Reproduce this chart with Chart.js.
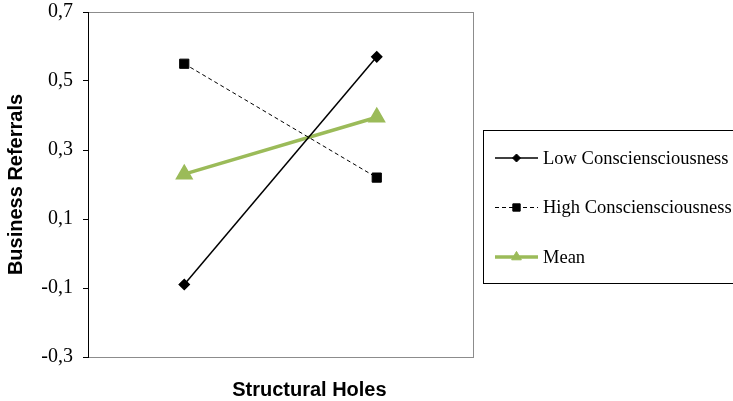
<!DOCTYPE html>
<html lang="en">
<head>
    <meta charset="UTF-8">
    <title>Business Referrals</title>
    <script src="https://cdn.jsdelivr.net/npm/chart.js"></script>
    <style>
        html, body { margin: 0; padding: 0; background: #fff; }
        #wrap { width: 733px; height: 401px; }
    </style>
</head>
<body>
    <div id="wrap"><canvas id="refChart" width="733" height="401"></canvas></div>

    <script>
        // data
        const categories = ['Low Structural Holes', 'High Structural Holes'];
        const lowConsc = [-0.09, 0.57];
        const highConsc = [0.55, 0.22];
        const meanLine = [0.23, 0.395];
        const yTicks = [-0.3, -0.1, 0.1, 0.3, 0.5, 0.7];

        const serif = '"Liberation Serif", "Times New Roman", serif';
        const sans = '"Liberation Sans", Arial, sans-serif';

        // grey frame round the plot + x title + legend box
        const framePlugin = {
            id: 'frame',
            beforeDatasetsDraw(chart) {
                const a = chart.chartArea, ctx = chart.ctx;
                ctx.save();
                ctx.strokeStyle = '#8c8c8c';
                ctx.lineWidth = 1;
                ctx.strokeRect(a.left + 0.5, a.top + 0.5, a.right - a.left, a.bottom - a.top);
                // left axis in black
                ctx.strokeStyle = '#000';
                ctx.beginPath();
                ctx.moveTo(a.left + 0.5, a.top);
                ctx.lineTo(a.left + 0.5, a.bottom + 1);
                ctx.stroke();
                ctx.restore();
            },
            afterDraw(chart) {
                const a = chart.chartArea, ctx = chart.ctx;
                ctx.save();
                // x axis title
                ctx.font = 'bold 20px ' + sans;
                ctx.fillStyle = '#000';
                ctx.textAlign = 'center';
                ctx.textBaseline = 'middle';
                ctx.fillText('Structural Holes', a.left + (a.right - a.left) * 0.575, 390);

                // legend
                const bx = a.right + 10, by = 130;
                ctx.strokeStyle = '#000';
                ctx.lineWidth = 1;
                ctx.strokeRect(bx + 0.5, by + 0.5, 260, 153);
                ctx.font = '18.5px ' + serif;
                ctx.textAlign = 'left';
                chart.data.datasets.forEach((ds, i) => {
                    const y = 158 + i * 49.5;
                    const x0 = bx + 12, x1 = bx + 55;
                    ctx.save();
                    ctx.strokeStyle = ds.borderColor;
                    ctx.lineWidth = ds.borderWidth;
                    ctx.setLineDash(ds.borderDash || []);
                    ctx.beginPath();
                    ctx.moveTo(x0, y);
                    ctx.lineTo(x1, y);
                    ctx.stroke();
                    ctx.setLineDash([]);
                    ctx.fillStyle = ds.pointBackgroundColor;
                    ctx.strokeStyle = ds.pointBorderColor;
                    ctx.lineWidth = 1;
                    Chart.helpers.drawPoint(ctx, {
                        pointStyle: ds.pointStyle,
                        radius: ds.pointRadius * 0.8,
                        rotation: 0,
                        borderWidth: 1
                    }, (x0 + x1) / 2, y);
                    ctx.restore();
                    ctx.fillStyle = '#000';
                    ctx.textBaseline = 'middle';
                    ctx.fillText(ds.label, x1 + 5, y + 1);
                });
                ctx.restore();
            }
        };

        window.onload = function() {
            const ctx = document.getElementById('refChart').getContext('2d');
            new Chart(ctx, {
                type: 'line',
                data: {
                    labels: categories,
                    datasets: [{
                        label: 'Low Consciensciousness',
                        data: lowConsc,
                        borderColor: '#000',
                        borderWidth: 1.5,
                        pointStyle: 'rectRot',
                        pointRadius: 5,
                        pointBackgroundColor: '#000',
                        pointBorderColor: '#000',
                        fill: false
                    }, {
                        label: 'High Consciensciousness',
                        data: highConsc,
                        borderColor: '#000',
                        borderWidth: 1,
                        borderDash: [4, 3],
                        pointStyle: 'rect',
                        pointRadius: 6.5,
                        pointBackgroundColor: '#000',
                        pointBorderColor: '#000',
                        fill: false
                    }, {
                        label: 'Mean',
                        data: meanLine,
                        borderColor: '#9bbb59',
                        borderWidth: 3.5,
                        pointStyle: 'triangle',
                        pointRadius: 7,
                        pointBackgroundColor: '#9bbb59',
                        pointBorderColor: '#9bbb59',
                        fill: false
                    }]
                },
                options: {
                    responsive: false,
                    animation: false,
                    layout: { autoPadding: false, padding: { top: 12, right: 260, left: 0, bottom: 0 } },
                    plugins: {
                        legend: { display: false },
                        tooltip: { enabled: false }
                    },
                    scales: {
                        x: {
                            offset: true,
                            grid: { display: false },
                            border: { display: false },
                            ticks: { display: false },
                            afterFit(s) { s.height = 44; s.paddingLeft = 0; s.paddingRight = 0; }
                        },
                        y: {
                            min: -0.3,
                            max: 0.7,
                            afterBuildTicks(s) { s.ticks = yTicks.map(v => ({ value: v })); },
                            grid: {
                                drawOnChartArea: false,
                                tickLength: 5,
                                color: '#000'
                            },
                            border: { display: false },
                            ticks: {
                                color: '#000',
                                padding: 10,
                                font: { family: serif, size: 20 },
                                callback: v => v.toFixed(1).replace('.', ',')
                            },
                            title: {
                                display: true,
                                text: 'Business Referrals',
                                color: '#000',
                                font: { family: sans, size: 20, weight: 'bold' },
                                padding: { top: 4, bottom: 0 }
                            },
                            afterFit(s) { s.width = 88; s.paddingTop = 0; s.paddingBottom = 0; }
                        }
                    }
                },
                plugins: [framePlugin]
            });
        };
    </script>
</body>
</html>
